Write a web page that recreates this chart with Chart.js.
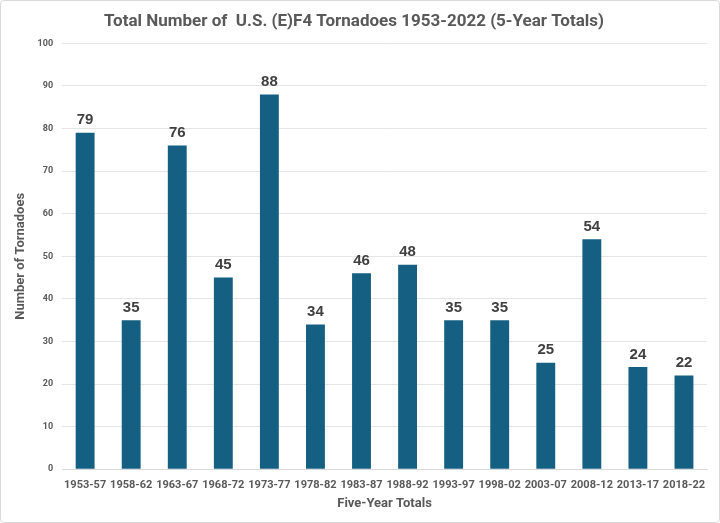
<!DOCTYPE html>
<html><head><meta charset="utf-8">
<script src="https://cdn.jsdelivr.net/npm/chart.js@4.4.1/dist/chart.umd.min.js"></script>
<style>
html,body{margin:0;padding:0;background:#fff;}
#wrap{position:absolute;left:0;top:0;width:718px;height:521px;border:1px solid #d9d9d9;border-radius:4px;}
canvas{display:block;}
</style></head>
<body>
<div id="wrap"><canvas id="c" width="718" height="521"></canvas></div>
<script>
const categories = ["1953-57","1958-62","1963-67","1968-72","1973-77","1978-82","1983-87","1988-92","1993-97","1998-02","2003-07","2008-12","2013-17","2018-22"];
const tornadoCounts = [79,35,76,45,88,34,46,48,35,35,25,54,24,22];
const yTicks = [0,10,20,30,40,50,60,70,80,90,100];

const FONT = "'Liberation Sans Narrow','Arial Narrow','Roboto',sans-serif";

const dataLabels = {
  id:'dataLabels',
  afterDatasetsDraw(chart){
    const ctx = chart.ctx;
    const meta = chart.getDatasetMeta(0);
    ctx.save();
    ctx.font = "bold 15px " + "'Liberation Sans', Arial, sans-serif";
    ctx.fillStyle = '#404040';
    ctx.textAlign='center';
    ctx.textBaseline='bottom';
    meta.data.forEach((bar,i)=>{
      ctx.fillText(String(tornadoCounts[i]), bar.x, bar.y-5);
    });
    ctx.restore();
  }
};

new Chart(document.getElementById('c'),{
  type:'bar',
  data:{labels:categories,datasets:[{data:tornadoCounts,backgroundColor:'#156082',barPercentage:0.82,categoryPercentage:0.5}]},
  options:{
    responsive:false,animation:false,
    layout:{padding:{left:0,right:12,top:4,bottom:6}},
    plugins:{
      legend:{display:false},tooltip:{enabled:false},
      title:{display:true,text:'Total Number of  U.S. (E)F4 Tornadoes 1953-2022 (5-Year Totals)',color:'#595959',font:{family:FONT,size:17,weight:'bold'},padding:{top:7,bottom:11}}
    },
    scales:{
      x:{
        grid:{display:false},border:{display:true,color:'#d9d9d9'},
        ticks:{color:'#595959',font:{family:FONT,size:11,weight:'bold'},maxRotation:0,padding:1},
        title:{display:true,text:'Five-Year Totals',color:'#595959',font:{family:FONT,size:13,weight:'bold'},padding:{top:4}}
      },
      y:{
        min:0,max:100,
        afterBuildTicks(axis){axis.ticks = yTicks.map(v=>({value:v}));},
        grid:{color:'#e5e5e5',drawTicks:false},border:{display:false},
        ticks:{color:'#595959',font:{family:FONT,size:9,weight:'bold'},padding:9},
        title:{display:true,text:'Number of Tornadoes',color:'#595959',font:{family:FONT,size:13,weight:'bold'},padding:{top:12,bottom:0}}
      }
    }
  },
  plugins:[dataLabels]
});
</script>
</body></html>
